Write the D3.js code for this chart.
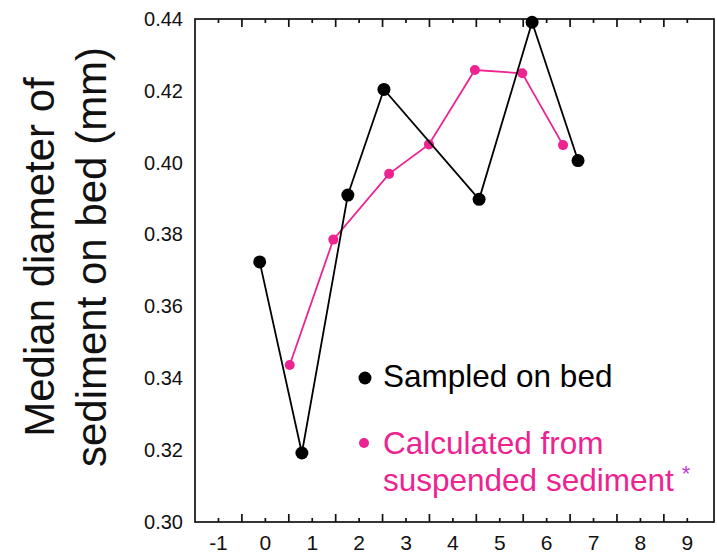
<!DOCTYPE html>
<html>
<head>
    <meta charset="utf-8">
    <title>Median diameter of sediment on bed</title>
    <style>
        body { margin: 0; background: #fff; }
        text { font-family: Arial, "Liberation Sans", sans-serif; }
    </style>
</head>
<body>
<div id="chart"></div>
<script src="https://d3js.org/d3.v7.min.js"></script>
<script>
// data
var bedX  = [-0.11, 0.79, 1.77, 2.54, 4.57, 5.70, 6.68]
var bedY  = [0.3724, 0.3192, 0.3910, 0.4204, 0.3898, 0.4391, 0.4006]
var suspX = [0.53, 1.46, 2.65, 3.50, 4.48, 5.49, 6.36]
var suspY = [0.3437, 0.3786, 0.3969, 0.4051, 0.4258, 0.4249, 0.4049]
var xTicks = [-1, 0, 1, 2, 3, 4, 5, 6, 7, 8, 9]
var xHalfTicks = [-0.5, 0.5, 1.5, 2.5, 3.5, 4.5, 5.5, 6.5, 7.5, 8.5]
var yTicks = [0.30, 0.32, 0.34, 0.36, 0.38, 0.40, 0.42, 0.44]

var pink = "#ec2390"
var width = 717, height = 554
var frame = {left: 195, right: 714, top: 19, bottom: 522}

var svg = d3.select("#chart")
    .append("svg")
        .attr("width", width)
        .attr("height", height)

var x = d3.scaleLinear()
    .domain([-1.49, 9.58])
    .range([frame.left, frame.right])
var y = d3.scaleLinear()
    .domain([0.30, 0.44])
    .range([frame.bottom, frame.top])

// bottom ticks: short at integers (with labels), longer at halves, pointing inward
svg.append("g")
    .attr("class", "xaxis")
    .attr("transform", "translate(0," + frame.bottom + ")")
    .call(d3.axisBottom(x).tickValues(xTicks).tickSize(-4).tickPadding(13)
        .tickFormat(function(d) { return String(d) }))   // plain hyphen for "-1"
svg.append("g")
    .attr("transform", "translate(0," + frame.bottom + ")")
    .call(d3.axisBottom(x).tickValues(xHalfTicks).tickSize(-8).tickFormat(""))
// same ticks on the top edge
svg.append("g")
    .attr("transform", "translate(0," + frame.top + ")")
    .call(d3.axisTop(x).tickValues(xTicks).tickSize(-4).tickFormat(""))
svg.append("g")
    .attr("transform", "translate(0," + frame.top + ")")
    .call(d3.axisTop(x).tickValues(xHalfTicks).tickSize(-8).tickFormat(""))
svg.selectAll(".domain").remove()
svg.selectAll(".tick line").attr("stroke", "#111").attr("stroke-width", 1.7)
svg.selectAll(".xaxis text")
    .style("font-size", "21px")
    .attr("fill", "#111")

// y labels, no tick marks
var yAxis = svg.append("g")
    .attr("transform", "translate(" + (frame.left - 12) + ",0)")
    .call(d3.axisLeft(y).tickValues(yTicks).tickSize(0).tickPadding(0).tickFormat(d3.format(".2f")))
yAxis.select(".domain").remove()
yAxis.selectAll("text").style("font-size", "20px").attr("fill", "#111")

// frame
svg.append("rect")
    .attr("x", frame.left)
    .attr("y", frame.top)
    .attr("width", frame.right - frame.left)
    .attr("height", frame.bottom - frame.top)
    .attr("fill", "none")
    .attr("stroke", "#111")
    .attr("stroke-width", 1.7)

// y title, two lines rotated
var title = svg.append("text")
    .attr("transform", "translate(0,257) rotate(-90)")
    .attr("text-anchor", "middle")
    .style("font-size", "42px")
    .attr("fill", "#111")
title.append("tspan").attr("x", 0).attr("y", 54).text("Median diameter of")
title.append("tspan").attr("x", 0).attr("y", 106).text("sediment on bed (mm)")

var bed = bedX.map(function(d, i) { return {x: d, y: bedY[i]} })
var susp = suspX.map(function(d, i) { return {x: d, y: suspY[i]} })
var line = d3.line()
    .x(function(d) { return x(d.x) })
    .y(function(d) { return y(d.y) })

// suspended sediment series
svg.append("path")
    .datum(susp)
    .attr("d", line)
    .attr("fill", "none")
    .attr("stroke", pink)
    .attr("stroke-width", 1.8)
svg.selectAll(".susp")
    .data(susp)
    .enter()
    .append("circle")
        .attr("class", "susp")
        .attr("cx", function(d) { return x(d.x) })
        .attr("cy", function(d) { return y(d.y) })
        .attr("r", 5)
        .attr("fill", pink)

// sampled on bed series
svg.append("path")
    .datum(bed)
    .attr("d", line)
    .attr("fill", "none")
    .attr("stroke", "#000")
    .attr("stroke-width", 1.8)
svg.selectAll(".bed")
    .data(bed)
    .enter()
    .append("circle")
        .attr("class", "bed")
        .attr("cx", function(d) { return x(d.x) })
        .attr("cy", function(d) { return y(d.y) })
        .attr("r", 6.5)
        .attr("fill", "#000")

// legend
var legend = svg.append("g")
legend.append("circle").attr("cx", 365).attr("cy", 378).attr("r", 6.5).attr("fill", "#000")
legend.append("text").attr("x", 383).attr("y", 387)
    .style("font-size", "31.5px").attr("fill", "#000").text("Sampled on bed")
legend.append("circle").attr("cx", 364).attr("cy", 443).attr("r", 5).attr("fill", pink)
var lt = legend.append("text").style("font-size", "31.5px").attr("fill", pink)
lt.append("tspan").attr("x", 383).attr("y", 454).text("Calculated from")
lt.append("tspan").attr("x", 383).attr("y", 491).text("suspended sediment")
lt.append("tspan").attr("dx", 8).attr("dy", -10).style("font-size", "22px").attr("fill", "#c23bd6").text("*")
</script>
</body>
</html>
